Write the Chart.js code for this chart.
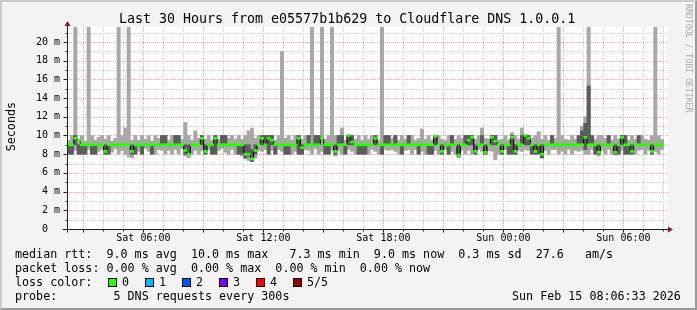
<!DOCTYPE html>
<html>
<head>
<meta charset="utf-8">
<script src="https://cdn.jsdelivr.net/npm/chart.js@4.4.1/dist/chart.umd.min.js"></script>
<style>
  body { margin: 0; background: #fff; }
  #graph { position: relative; width: 697px; height: 310px; background: #f3f3f3; overflow: hidden;
           font-family: 'DejaVu Sans Mono', monospace; color: #000; }
  #graph canvas { position: absolute; left: 0; top: 0; }
  .frame { position: absolute; left: 0; top: 0; width: 697px; height: 310px; box-sizing: border-box;
           border: 2px solid; border-color: #cbcbcb #999 #999 #cbcbcb; }
  .title { position: absolute; left: 119px; top: 11px; font-size: 13.3px; line-height: 16px; white-space: pre; }
  .ylabel { position: absolute; left: 4px; top: 102px; font-size: 11.7px; line-height: 14px; white-space: pre;
            writing-mode: vertical-rl; transform: rotate(180deg); }
  .mark { position: absolute; left: 684px; top: 4px; font-size: 8.2px; line-height: 10px; white-space: pre;
          writing-mode: vertical-rl; color: #aaa; }
  .line { position: absolute; font-size: 11.7px; line-height: 14px; white-space: pre; }
  .box { position: absolute; top: 278px; width: 9px; height: 9px; box-sizing: border-box; border: 1px solid #000; }
</style>
</head>
<body>
<div id="graph">
  <canvas id="chart" width="697" height="310"></canvas>
  <div class="frame"></div>
  <div class="title">Last 30 Hours from e05577b1b629 to Cloudflare DNS 1.0.0.1</div>
  <div class="ylabel">Seconds</div>
  <div class="mark">RRDTOOL / TOBI OETIKER</div>
  <div class="line" style="left:15px;top:247px">median rtt:  9.0 ms avg  10.0 ms max   7.3 ms min  9.0 ms now  0.3 ms sd  27.6   am/s</div>
  <div class="line" style="left:15px;top:261px">packet loss: 0.00 % avg  0.00 % max  0.00 % min  0.00 % now</div>
  <div class="line" style="left:15px;top:275px">loss color:</div>
  <div class="box" style="left:108px;background:#26ff00"></div><div class="line" style="left:122px;top:275px">0</div>
  <div class="box" style="left:145px;background:#00b8ff"></div><div class="line" style="left:159px;top:275px">1</div>
  <div class="box" style="left:182px;background:#0059ff"></div><div class="line" style="left:196px;top:275px">2</div>
  <div class="box" style="left:219px;background:#7e00ff"></div><div class="line" style="left:233px;top:275px">3</div>
  <div class="box" style="left:256px;background:#ff0000"></div><div class="line" style="left:270px;top:275px">4</div>
  <div class="box" style="left:293px;background:#a10000"></div><div class="line" style="left:307px;top:275px">5/5</div>
  <div class="line" style="left:15px;top:289px">probe:        5 DNS requests every 300s</div>
  <div class="line" style="left:512px;top:289px">Sun Feb 15 08:06:33 2026</div>
</div>
<script>
// 10 minute bins, values in ms
const startHour = 2.18;   // Sat ~02:11, left edge of the plot
const binHours = 1 / 6;

// outer smoke (fastest .. slowest ping)
const smokeLow = [
  8, 8, 8.4, 8, 8, 8, 8.5, 8, 8, 8.3,   8.5, 8, 8, 8.2, 8.6, 8, 8.4, 8, 7.7, 7.6,
  8, 8.3, 8, 8.6, 8.3, 8, 8, 8.5, 8.4, 8,   8.4, 8, 8.5, 8, 8.6, 7.8, 7.6, 8, 8.4, 8,
  8.4, 8, 8.5, 8, 8, 8.4, 8.6, 8.2, 8, 8.5,   8, 8, 7.8, 7.5, 7.3, 7.2, 7.6, 8.4, 8.3, 8.5,
  8, 8.4, 8, 8.5, 8.3, 8, 8, 8, 8.3, 8,   8, 8.5, 8.4, 8, 8.6, 8, 8.3, 8, 8, 8.4,
  7.8, 8.4, 8, 8, 8.5, 8.3, 8, 8, 8, 8,   8, 8.5, 8.3, 8, 8, 8.5, 8.4, 8.5, 8.3, 8,
  8, 8.4, 8.5, 8, 8.5, 8, 8.3, 8, 8, 8,   8.4, 8, 8, 8.5, 8, 8.3, 8, 7.6, 8.4, 8,
  8.4, 8, 8, 8.5, 8.3, 8, 8.4, 8.3, 7.4, 8,   8, 8.5, 8, 8, 8, 8.4, 8.3, 8.5, 8.4, 8,
  8, 8, 7.6, 8.4, 8, 8.5, 8.5, 8, 8.3, 8,   8.5, 8, 8.4, 8.3, 8.4, 8, 8, 8.5, 8, 7.8,
  8.4, 8, 8.5, 8, 7.9, 8, 8.4, 8, 8, 8,   8, 8.4, 8.5, 8, 8.4, 8, 8.3, 8, 8.5, null
];
const smokeHigh = [
  9.5, 10, 25, 9.6, 10, 9.4, 25, 10, 9.5, 9.8,   10, 9.6, 10, 9.4, 9.7, 25, 10, 10.8, 25, 9.5,
  10, 9.5, 10, 9.6, 10, 9.4, 10, 9.7, 10, 10,   9.5, 10, 10, 10, 9.6, 11.4, 10, 9.5, 10.5, 9.7,
  10, 9.6, 10, 9.5, 10, 9.6, 10, 10, 9.7, 10,   9.6, 10, 9.6, 10, 10.5, 10.8, 9.7, 10, 10, 10,
  10, 10, 9.5, 10, 19, 9.7, 10, 9.5, 10, 10,   9.6, 10, 10, 25, 10, 10, 25, 9.6, 10, 25,
  10, 10, 10.8, 9.5, 10, 10, 9.6, 10, 9.5, 10,   9.6, 10, 10, 9.5, 25, 10, 10, 9.7, 10, 9.5,
  10, 9.6, 10, 10, 9.5, 9.7, 10.7, 9.6, 10, 9.5,   10, 10, 9.6, 9.5, 10, 10, 9.6, 10, 9.7, 10,
  10, 10, 9.6, 10, 10.8, 9.7, 9.6, 10, 10, 9.5,   9.6, 10, 9.5, 10.3, 10, 9.6, 10.8, 10, 10, 9.7,
  10, 10.4, 9.6, 10, 9.5, 10, 9.7, 25, 10, 9.6,   9.5, 10, 9.6, 10, 11, 12, 25, 10, 9.6, 10,
  10, 9.7, 10, 9.5, 10, 9.6, 10, 10, 9.5, 10,   9.6, 10, 10, 9.6, 9.5, 10, 25, 10, 9.6, null
];
// inner smoke (2nd .. 4th ping)
const coreLow = [
  8, 8, 9, 8, 8, 8, null, 8, 8, null,   null, 8, 8, null, null, null, null, null, null, 8,
  8, null, 8, null, null, 8, null, null, 9, 9,   null, null, 9, 9, null, 8, 8, null, null, null,
  9, 8, null, 8, 8, null, 9, 9, null, null,   null, 8, 8, 7.6, 7.8, 7.2, 8, null, 9, 9,
  8, 9, 8, null, null, 8, 8, null, null, 8,   8, null, 9, null, 9, 9, null, 8, 8, null,
  8, 9, 9, 8, 9, 9, null, 8, 8, 8,   null, null, 9, null, 8, 9, 9, null, 9, null,
  8, null, 9, null, null, 8, null, null, 8, 8,   9, null, 8, null, 8, 9, null, 7.8, null, 9,
  9, 9, 8, null, 9, 8, null, 9, 9, null,   8, null, 8, 8, 8, null, 9, 9, 9, 8,
  8, 8, 7.6, null, null, 9, null, null, null, null,   null, null, null, 9, 9, 8.5, 9, 9, 8, 8,
  null, null, 9, null, 8, 8, 9, 8, 8, 8,   null, 9, null, null, null, 8, null, null, null, null
];
const coreHigh = [
  9, 9, 10, 9, 9, 9, null, 9, 9, null,   null, 9, 9, null, null, null, null, null, null, 9,
  9, null, 9, null, null, 9, null, null, 10, 10,   null, null, 10, 10, null, 9, 9, null, null, null,
  10, 9, null, 9, 10, null, 10, 10, null, null,   null, 9, 9, 9, 9, 8.5, 9, null, 10, 10,
  10, 10, 9, null, null, 9, 9, null, null, 10,   9, null, 10, null, 10, 10, null, 9, 9, null,
  9, 10, 10, 9, 10, 10, null, 9, 9, 9,   null, null, 10, null, 9, 10, 10, null, 10, null,
  9, null, 10, null, null, 9, null, null, 9, 9,   10, null, 9, null, 9, 10, null, 9, null, 10,
  10, 10, 9, null, 10, 9, null, 10, 10, null,   9, null, 9, 10, 9, null, 10, 10, 10, 9,
  9, 9, 9, null, null, 10, null, null, null, null,   null, null, null, 10, 10.5, 11.3, 15.3, 10, 9, 9,
  null, null, 10, null, 9, 9, 10, 10, 9, 9,   null, 10, null, null, null, 9, null, null, null, null
];
const medianRtt = [
  9, 9, 9.7, 9.4, 9, 9, 9, 9, 9, 9,   9, 8.3, 9, 9, 9, 9, 9, 9, 9, 8.3,
  9, 9, 9, 9, 9, 9, 9, 9, 9, 9,   9, 9, 9, 9, 9, 8.4, 8.0, 9, 9, 9,
  9.7, 8.3, 9, 9, 9.7, 9, 9, 9, 9, 9,   9, 9, 9, 8.0, 8.0, 7.5, 8.4, 9, 9.7, 9,
  9.7, 9.5, 9, 9, 9, 9, 9, 9, 9, 9.7,   8.7, 9, 9, 9, 9, 9, 9.7, 9, 9, 9,
  8.3, 9, 9, 9, 10.0, 9.3, 9, 9, 9, 9,   9, 9, 9.7, 9, 9, 9, 9, 9, 9, 9,
  9, 9, 9, 9, 9, 9, 9, 9, 9, 9,   9.9, 9, 8.3, 9, 9, 9, 9, 7.9, 9, 9,
  9.5, 9.8, 8.3, 9, 9, 8.2, 9, 9.8, 9.4, 9,   8.3, 9, 9, 9.8, 8.3, 9, 9, 10.0, 9.7, 9,
  8.3, 9, 8.0, 9, 9, 9, 9, 9, 9, 9,   9, 9, 9, 9, 9, 9.8, 9, 9, 9, 8.2,
  9, 9, 9, 9, 8.2, 9, 9.8, 9, 9, 8.3,   9, 9, 9, 9, 9, 8.3, 9, 9, 9, null
];

const yTicks = [0, 2, 4, 6, 8, 10, 12, 14, 16, 18, 20];
const yTickLabels = ['0  ', '2 m', '4 m', '6 m', '8 m', '10 m', '12 m', '14 m', '16 m', '18 m', '20 m'];
const xTicks = [6, 12, 18, 24, 30];
const xTickLabels = ['Sat 06:00', 'Sat 12:00', 'Sat 18:00', 'Sun 00:00', 'Sun 06:00'];

const binTimes = medianRtt.map((_, i) => startHour + (i + 0.5) * binHours);
const range = (lo, hi) => binTimes.map((t, i) => ({ x: t, y: lo[i] == null ? null : [lo[i], hi[i]] }));

const gridGray = '#c6c6c6';
const gridRed = '#e7a1a1';
const axisFont = { family: 'DejaVu Sans Mono', size: 10 };
const medianHalf = 0.11;   // half thickness of the median stroke, in ms

const hours = [];
for (let h = 3; h <= 32; h++) hours.push(h);
const yLines = [];
for (let v = 0; v <= 21; v++) yLines.push(v);

// white canvas, dotted grid, axis lines, tick marks and arrows like rrdtool
const rrdFrame = {
  id: 'rrdFrame',
  beforeDatasetsDraw(chart) {
    const { ctx, chartArea: a, scales: { x, y } } = chart;
    ctx.save();
    ctx.fillStyle = '#fff';
    ctx.fillRect(a.left, a.top, a.right - a.left + 1, a.bottom - a.top);
    ctx.lineWidth = 1;
    ctx.setLineDash([1, 1]);
    hours.forEach(h => {
      const px = Math.round(x.getPixelForValue(h)) + 0.5;
      ctx.strokeStyle = h % 3 ? gridGray : gridRed;
      ctx.beginPath(); ctx.moveTo(px, a.top); ctx.lineTo(px, a.bottom); ctx.stroke();
    });
    yLines.forEach(v => {
      if (!v) return;
      const py = Math.round(y.getPixelForValue(v)) + 0.5;
      ctx.strokeStyle = v % 2 ? gridGray : gridRed;
      ctx.beginPath(); ctx.moveTo(a.left, py); ctx.lineTo(a.right + 1, py); ctx.stroke();
    });
    ctx.restore();
  },
  afterDatasetsDraw(chart) {
    const { ctx, chartArea: a, scales: { x, y } } = chart;
    const ax = Math.round(a.left) + 0.5;
    const ay = Math.round(a.bottom) + 0.5;
    ctx.save();
    ctx.strokeStyle = '#222';
    ctx.lineWidth = 1;
    ctx.beginPath();
    ctx.moveTo(ax, ay + 3); ctx.lineTo(ax, a.top - 2);
    ctx.moveTo(ax - 5, ay); ctx.lineTo(a.right + 2, ay);
    hours.forEach(h => {
      const px = Math.round(x.getPixelForValue(h)) + 0.5;
      ctx.moveTo(px, ay); ctx.lineTo(px, ay + (h % 3 ? 2 : 3));
    });
    yLines.forEach(v => {
      if (!v) return;
      const py = Math.round(y.getPixelForValue(v)) + 0.5;
      ctx.moveTo(ax, py); ctx.lineTo(ax - (v % 2 ? 2 : 4), py);
    });
    ctx.stroke();
    ctx.fillStyle = '#8b1a1a';
    ctx.beginPath();
    ctx.moveTo(ax, a.top - 6); ctx.lineTo(ax - 3, a.top - 1); ctx.lineTo(ax + 3, a.top - 1);
    ctx.closePath(); ctx.fill();
    ctx.beginPath();
    ctx.moveTo(a.right + 6, ay); ctx.lineTo(a.right + 1, ay - 3); ctx.lineTo(a.right + 1, ay + 3);
    ctx.closePath(); ctx.fill();
    ctx.restore();
  }
};

const barBase = { type: 'bar', grouped: false, barPercentage: 1, categoryPercentage: 1, borderWidth: 0 };

new Chart(document.getElementById('chart'), {
  type: 'bar',
  data: {
    datasets: [
      { ...barBase, label: 'smoke', data: range(smokeLow, smokeHigh), backgroundColor: '#a8a8a8', order: 4 },
      { ...barBase, label: 'smoke core', data: range(coreLow, coreHigh), backgroundColor: '#5c5c5c', order: 3 },
      {
        type: 'line', label: 'median steps',
        data: binTimes.map((t, i) => ({ x: t, y: medianRtt[i] })),
        borderColor: '#000', borderWidth: 1, stepped: 'middle', pointRadius: 0, order: 2
      },
      {
        ...barBase, label: 'median rtt',
        data: binTimes.map((t, i) => ({
          x: t, y: medianRtt[i] == null ? null : [medianRtt[i] - medianHalf, medianRtt[i] + medianHalf]
        })),
        backgroundColor: '#26ff00', order: 1
      }
    ]
  },
  options: {
    responsive: false,
    animation: false,
    events: [],
    layout: { padding: { top: 27, right: 30, bottom: 0, left: 0 } },
    plugins: { legend: { display: false }, tooltip: { enabled: false } },
    scales: {
      x: {
        type: 'linear',
        offset: false,
        min: startHour,
        max: startHour + 30,
        afterFit(s) { s.height = 81; },
        afterBuildTicks(s) { s.ticks = hours.map(v => ({ value: v })); },
        grid: { display: false, drawTicks: false },
        border: { display: false },
        ticks: {
          autoSkip: false, maxRotation: 0, padding: 3, color: '#000', font: axisFont,
          callback: v => { const k = xTicks.indexOf(v); return k < 0 ? '' : xTickLabels[k]; }
        }
      },
      y: {
        type: 'linear',
        min: 0,
        max: 21.6,
        afterFit(s) { s.width = 67; },
        afterBuildTicks(s) { s.ticks = yLines.map(v => ({ value: v })); },
        grid: { display: false, drawTicks: false },
        border: { display: false },
        ticks: {
          autoSkip: false, padding: 7, color: '#000', font: axisFont,
          callback: v => { const k = yTicks.indexOf(v); return k < 0 ? '' : yTickLabels[k]; }
        }
      }
    }
  },
  plugins: [rrdFrame]
});
</script>
</body>
</html>
